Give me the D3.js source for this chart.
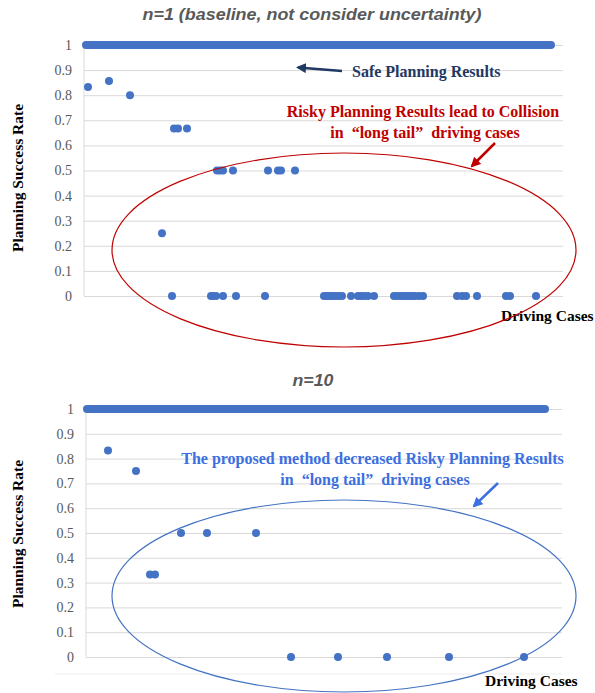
<!DOCTYPE html>
<html>
<head>
<meta charset="utf-8">
<script src="https://cdn.jsdelivr.net/npm/d3@7"></script>
<style>
  body { margin: 0; background: #fff; }
  svg { display: block; }
</style>
</head>
<body>
<div id="chart"></div>
<script>
// ---- data (case index along x, planning success rate along y) ----
const yTickValues = [0, 0.1, 0.2, 0.3, 0.4, 0.5, 0.6, 0.7, 0.8, 0.9, 1];
const yTickLabels = ["0", "0.1", "0.2", "0.3", "0.4", "0.5", "0.6", "0.7", "0.8", "0.9", "1"];

// n=1 baseline: safe cases form a solid band at 1, the rest are listed
const baseSafeRange = [1, 233.5];
const baseCases = [2, 12.5, 23, 39, 44, 45, 47, 51.5,
  63.5, 64.5, 66, 66.5, 68, 69.5, 69.5, 74.5, 76, 90.5, 92, 97, 98.5, 105.5,
  120, 121.5, 123, 124.5, 126, 127.5, 129,
  133.5, 137, 138.5, 140, 142, 145,
  155, 156.5, 158, 159.5, 161, 162.5, 164, 165.5, 167.5, 169.5,
  186.5, 189, 191, 196.5, 211, 213, 226];
const baseRates = [0.833, 0.857, 0.8, 0.25, 0, 0.667, 0.667, 0.667,
  0, 0, 0, 0.5, 0.5, 0.5, 0, 0.5, 0, 0, 0.5, 0.5, 0.5, 0.5,
  0, 0, 0, 0, 0, 0, 0,
  0, 0, 0, 0, 0, 0,
  0, 0, 0, 0, 0, 0, 0, 0, 0, 0,
  0, 0, 0, 0, 0, 0, 0];

// n=10 proposed method
const propSafeRange = [0.5, 229.5];
const propCases = [11, 25, 32, 34.5, 47.5, 60.5, 85, 102.5, 126, 150.5, 181.5, 219];
const propRates = [0.833, 0.75, 0.333, 0.333, 0.5, 0.5, 0.5, 0, 0, 0, 0, 0];

const W = 595, H = 693;
const dotColor = "#4472c4";
const serif = "'Liberation Serif', 'Times New Roman', serif";

const svg = d3.select("#chart").append("svg")
  .attr("width", W)
  .attr("height", H);

const defs = svg.append("defs");
function addArrow(id, color) {
  defs.append("marker")
    .attr("id", id)
    .attr("viewBox", "0 0 10 10")
    .attr("refX", 8).attr("refY", 5)
    .attr("markerWidth", 4).attr("markerHeight", 4)
    .attr("markerUnits", "strokeWidth")
    .attr("orient", "auto")
    .append("path")
      .attr("d", "M0,0 L10,5 L0,10 z")
      .attr("fill", color);
}
addArrow("arrowNavy", "#1f3864");
addArrow("arrowRed", "#c00000");
addArrow("arrowBlue", "#3c6fe0");

function drawPanel(p) {
  const x = d3.scaleLinear([0, 240], [p.left, p.left + 480]);
  const y = d3.scaleLinear([0, 1], [p.bottom, p.top]);
  const g = svg.append("g");

  // gridlines + tick labels
  const axis = g.append("g")
    .attr("transform", `translate(${p.left},0)`)
    .call(d3.axisLeft(y)
      .tickValues(yTickValues)
      .tickFormat((d, i) => yTickLabels[i])
      .tickSize(-p.gridW)
      .tickPadding(12));
  axis.select(".domain").remove();
  axis.selectAll(".tick line").attr("stroke", "#d9d9d9");
  axis.selectAll(".tick text")
    .attr("fill", "#595959")
    .style("font-family", serif)
    .style("font-size", "14px");

  g.append("line")
    .attr("x1", p.left).attr("x2", p.left)
    .attr("y1", y(1)).attr("y2", y(0))
    .attr("stroke", "#d9d9d9");

  // safe results: dense run of dots at 1
  g.append("line")
    .attr("x1", x(p.safe[0])).attr("x2", x(p.safe[1]))
    .attr("y1", y(1)).attr("y2", y(1))
    .attr("stroke", dotColor)
    .attr("stroke-width", 8)
    .attr("stroke-linecap", "round");

  g.append("g")
    .selectAll("circle")
    .data(p.cases.map((c, i) => ({c: c, v: p.rates[i]})))
    .join("circle")
      .attr("cx", d => x(d.c))
      .attr("cy", d => y(d.v))
      .attr("r", 4)
      .attr("fill", dotColor);

  // title
  g.append("text")
    .attr("x", p.titleX).attr("y", p.titleY)
    .attr("text-anchor", "middle")
    .attr("textLength", p.titleLen)
    .attr("lengthAdjust", "spacingAndGlyphs")
    .style("font-family", "'Liberation Sans', Arial, sans-serif")
    .style("font-size", "17px")
    .style("font-weight", "bold")
    .style("font-style", "italic")
    .attr("fill", "#595959")
    .text(p.title);

  // axis titles
  g.append("text")
    .attr("transform", `translate(23,${p.yLabelY}) rotate(-90)`)
    .attr("text-anchor", "middle")
    .style("font-family", serif)
    .style("font-size", "15.5px")
    .style("font-weight", "bold")
    .attr("fill", "#000")
    .text("Planning Success Rate");

  g.append("text")
    .attr("x", p.xLabelX).attr("y", p.xLabelY)
    .style("font-family", serif)
    .style("font-size", "15.5px")
    .style("font-weight", "bold")
    .attr("fill", "#000")
    .text("Driving Cases");

  return {x, y, g};
}

const topPanel = drawPanel({
  left: 84, top: 45, bottom: 296, gridW: 479,
  safe: baseSafeRange, cases: baseCases, rates: baseRates,
  title: "n=1 (baseline, not consider uncertainty)", titleX: 312, titleY: 20, titleLen: 339,
  yLabelY: 178, xLabelX: 501, xLabelY: 321
});

const botPanel = drawPanel({
  left: 86, top: 409, bottom: 657, gridW: 476,
  safe: propSafeRange, cases: propCases, rates: propRates,
  title: "n=10", titleX: 313, titleY: 386, titleLen: 41,
  yLabelY: 534, xLabelX: 485, xLabelY: 686
});

// faint baseline under the lower chart
botPanel.g.append("line")
  .attr("x1", 55).attr("x2", 562)
  .attr("y1", 674).attr("y2", 674)
  .attr("stroke", "#ececec");

function note(g, txt, xPos, yPos, color, anchor) {
  g.append("text")
    .attr("x", xPos).attr("y", yPos)
    .attr("text-anchor", anchor || "middle")
    .style("font-family", serif)
    .style("font-size", "16px")
    .style("font-weight", "bold")
    .attr("fill", color)
    .text(txt);
}

// ---- annotations, top chart ----
topPanel.g.append("line")
  .attr("x1", 342).attr("y1", 71).attr("x2", 298).attr("y2", 67.5)
  .attr("stroke", "#1f3864").attr("stroke-width", 2.5)
  .attr("marker-end", "url(#arrowNavy)");
note(topPanel.g, "Safe Planning Results", 352, 77, "#1f3864", "start");
note(topPanel.g, "Risky Planning Results lead to Collision", 423, 116.5, "#c00000");
note(topPanel.g, "in \u00a0\u201Clong tail\u201D\u00a0 driving cases", 425, 137.5, "#c00000");
topPanel.g.append("line")
  .attr("x1", 495).attr("y1", 143).attr("x2", 472).attr("y2", 166)
  .attr("stroke", "#c00000").attr("stroke-width", 2.5)
  .attr("marker-end", "url(#arrowRed)");
topPanel.g.append("ellipse")
  .attr("cx", 344).attr("cy", 250).attr("rx", 232).attr("ry", 97)
  .attr("fill", "none").attr("stroke", "#c00000").attr("stroke-width", 1.2);

// ---- annotations, bottom chart ----
note(botPanel.g, "The proposed method decreased Risky Planning Results", 372.5, 464, "#3c6fe0");
note(botPanel.g, "in \u00a0\u201Clong tail\u201D\u00a0 driving cases", 375, 484.5, "#3c6fe0");
botPanel.g.append("line")
  .attr("x1", 498).attr("y1", 483).attr("x2", 474).attr("y2", 506)
  .attr("stroke", "#3c6fe0").attr("stroke-width", 2.5)
  .attr("marker-end", "url(#arrowBlue)");
botPanel.g.append("ellipse")
  .attr("cx", 344).attr("cy", 596).attr("rx", 232).attr("ry", 96)
  .attr("fill", "none").attr("stroke", "#4472c4").attr("stroke-width", 1.2);
</script>
</body>
</html>
